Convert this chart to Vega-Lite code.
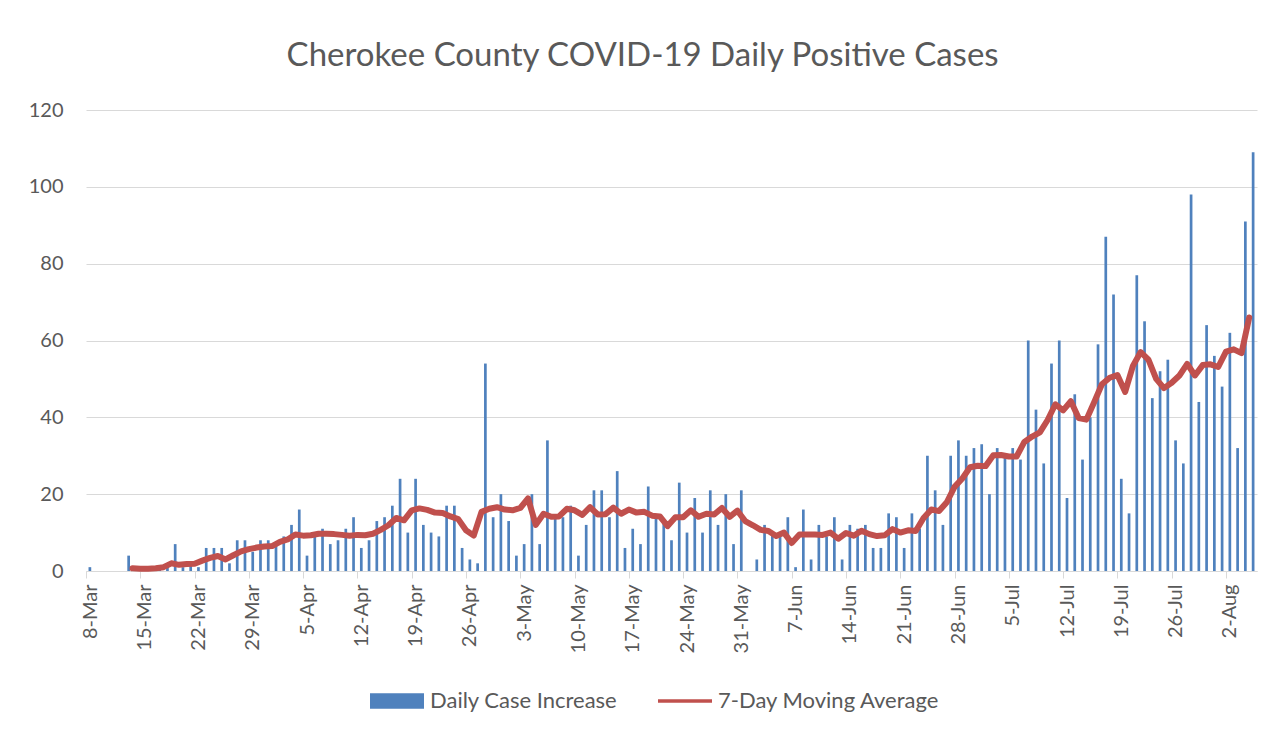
{
  "$schema": "https://vega.github.io/schema/vega-lite/v6.json",
  "autosize": "none",
  "width": 1171,
  "height": 461,
  "padding": {"left": 86, "top": 110, "right": 26, "bottom": 164},
  "background": "white",
  "title": {
    "text": "Cherokee County COVID-19 Daily Positive Cases",
    "font": "Lato", "fontSize": 33, "fontWeight": "normal", "color": "#595959",
    "frame": "bounds", "anchor": "middle", "offset": 27
  },
  "data": {"values": [
    {"date":"2020-03-08","cases":1},{"date":"2020-03-09","cases":0},{"date":"2020-03-10","cases":0},{"date":"2020-03-11","cases":0},{"date":"2020-03-12","cases":0},{"date":"2020-03-13","cases":4},
    {"date":"2020-03-14","cases":0,"avg":0.7},{"date":"2020-03-15","cases":0,"avg":0.6},{"date":"2020-03-16","cases":0,"avg":0.6},{"date":"2020-03-17","cases":1,"avg":0.7},{"date":"2020-03-18","cases":2,"avg":1.0},{"date":"2020-03-19","cases":7,"avg":2.0},{"date":"2020-03-20","cases":1,"avg":1.6},{"date":"2020-03-21","cases":2,"avg":1.8},{"date":"2020-03-22","cases":1,"avg":1.9},{"date":"2020-03-23","cases":6,"avg":2.7},{"date":"2020-03-24","cases":6,"avg":3.4},{"date":"2020-03-25","cases":6,"avg":3.9},{"date":"2020-03-26","cases":2,"avg":3.0},{"date":"2020-03-27","cases":8,"avg":4.1},{"date":"2020-03-28","cases":8,"avg":5.1},{"date":"2020-03-29","cases":5,"avg":5.7},{"date":"2020-03-30","cases":8,"avg":6.1},{"date":"2020-03-31","cases":8,"avg":6.4},
    {"date":"2020-04-01","cases":7,"avg":6.5},{"date":"2020-04-02","cases":9,"avg":7.6},{"date":"2020-04-03","cases":12,"avg":8.2},{"date":"2020-04-04","cases":16,"avg":9.5},{"date":"2020-04-05","cases":4,"avg":9.2},{"date":"2020-04-06","cases":9,"avg":9.3},{"date":"2020-04-07","cases":11,"avg":9.7},{"date":"2020-04-08","cases":7,"avg":9.7},{"date":"2020-04-09","cases":8,"avg":9.6},{"date":"2020-04-10","cases":11,"avg":9.4},{"date":"2020-04-11","cases":14,"avg":9.2},{"date":"2020-04-12","cases":6,"avg":9.4},{"date":"2020-04-13","cases":8,"avg":9.3},{"date":"2020-04-14","cases":13,"avg":9.7},{"date":"2020-04-15","cases":14,"avg":10.7},{"date":"2020-04-16","cases":17,"avg":11.9},{"date":"2020-04-17","cases":24,"avg":13.8},{"date":"2020-04-18","cases":10,"avg":13.2},{"date":"2020-04-19","cases":24,"avg":15.8},{"date":"2020-04-20","cases":12,"avg":16.3},{"date":"2020-04-21","cases":10,"avg":15.9},{"date":"2020-04-22","cases":9,"avg":15.2},{"date":"2020-04-23","cases":17,"avg":15.1},{"date":"2020-04-24","cases":17,"avg":14.2},{"date":"2020-04-25","cases":6,"avg":13.5},{"date":"2020-04-26","cases":3,"avg":10.6},{"date":"2020-04-27","cases":2,"avg":9.2},{"date":"2020-04-28","cases":54,"avg":15.4},{"date":"2020-04-29","cases":14,"avg":16.2},{"date":"2020-04-30","cases":20,"avg":16.6},
    {"date":"2020-05-01","cases":13,"avg":16.0},{"date":"2020-05-02","cases":4,"avg":15.8},{"date":"2020-05-03","cases":7,"avg":16.4},{"date":"2020-05-04","cases":20,"avg":18.9},{"date":"2020-05-05","cases":7,"avg":12.0},{"date":"2020-05-06","cases":34,"avg":14.9},{"date":"2020-05-07","cases":14,"avg":14.1},{"date":"2020-05-08","cases":14,"avg":14.2},{"date":"2020-05-09","cases":17,"avg":16.2},{"date":"2020-05-10","cases":4,"avg":15.8},{"date":"2020-05-11","cases":12,"avg":14.6},{"date":"2020-05-12","cases":21,"avg":16.6},{"date":"2020-05-13","cases":21,"avg":14.7},{"date":"2020-05-14","cases":14,"avg":14.8},{"date":"2020-05-15","cases":26,"avg":16.5},{"date":"2020-05-16","cases":6,"avg":14.9},{"date":"2020-05-17","cases":11,"avg":16.0},{"date":"2020-05-18","cases":7,"avg":15.2},{"date":"2020-05-19","cases":22,"avg":15.4},{"date":"2020-05-20","cases":14,"avg":14.4},{"date":"2020-05-21","cases":13,"avg":14.2},{"date":"2020-05-22","cases":8,"avg":11.7},{"date":"2020-05-23","cases":23,"avg":14.0},{"date":"2020-05-24","cases":10,"avg":14.0},{"date":"2020-05-25","cases":19,"avg":15.8},{"date":"2020-05-26","cases":10,"avg":14.1},{"date":"2020-05-27","cases":21,"avg":14.9},{"date":"2020-05-28","cases":12,"avg":14.7},{"date":"2020-05-29","cases":20,"avg":16.4},{"date":"2020-05-30","cases":7,"avg":14.1},{"date":"2020-05-31","cases":21,"avg":15.7},
    {"date":"2020-06-01","cases":0,"avg":13.0},{"date":"2020-06-02","cases":3,"avg":11.9},{"date":"2020-06-03","cases":12,"avg":10.7},{"date":"2020-06-04","cases":10,"avg":10.4},{"date":"2020-06-05","cases":10,"avg":9.1},{"date":"2020-06-06","cases":14,"avg":10.0},{"date":"2020-06-07","cases":1,"avg":7.3},{"date":"2020-06-08","cases":16,"avg":9.5},{"date":"2020-06-09","cases":3,"avg":9.5},{"date":"2020-06-10","cases":12,"avg":9.5},{"date":"2020-06-11","cases":9,"avg":9.4},{"date":"2020-06-12","cases":14,"avg":10.0},{"date":"2020-06-13","cases":3,"avg":8.4},{"date":"2020-06-14","cases":12,"avg":9.9},{"date":"2020-06-15","cases":11,"avg":9.2},{"date":"2020-06-16","cases":12,"avg":10.5},{"date":"2020-06-17","cases":6,"avg":9.6},{"date":"2020-06-18","cases":6,"avg":9.1},{"date":"2020-06-19","cases":15,"avg":9.3},{"date":"2020-06-20","cases":14,"avg":10.9},{"date":"2020-06-21","cases":6,"avg":10.0},{"date":"2020-06-22","cases":15,"avg":10.6},{"date":"2020-06-23","cases":11,"avg":10.4},{"date":"2020-06-24","cases":30,"avg":13.8},{"date":"2020-06-25","cases":21,"avg":16.0},{"date":"2020-06-26","cases":12,"avg":15.6},{"date":"2020-06-27","cases":30,"avg":17.9},{"date":"2020-06-28","cases":34,"avg":21.9},{"date":"2020-06-29","cases":30,"avg":24.1},{"date":"2020-06-30","cases":32,"avg":27.0},
    {"date":"2020-07-01","cases":33,"avg":27.4},{"date":"2020-07-02","cases":20,"avg":27.3},{"date":"2020-07-03","cases":32,"avg":30.1},{"date":"2020-07-04","cases":30,"avg":30.2},{"date":"2020-07-05","cases":32,"avg":29.8},{"date":"2020-07-06","cases":29,"avg":29.8},{"date":"2020-07-07","cases":60,"avg":33.6},{"date":"2020-07-08","cases":42,"avg":35.0},{"date":"2020-07-09","cases":28,"avg":36.1},{"date":"2020-07-10","cases":54,"avg":39.3},{"date":"2020-07-11","cases":60,"avg":43.4},{"date":"2020-07-12","cases":19,"avg":41.8},{"date":"2020-07-13","cases":46,"avg":44.2},{"date":"2020-07-14","cases":29,"avg":39.8},{"date":"2020-07-15","cases":40,"avg":39.4},{"date":"2020-07-16","cases":59,"avg":43.9},{"date":"2020-07-17","cases":87,"avg":48.6},{"date":"2020-07-18","cases":72,"avg":50.3},{"date":"2020-07-19","cases":24,"avg":51.0},{"date":"2020-07-20","cases":15,"avg":46.6},{"date":"2020-07-21","cases":77,"avg":53.4},{"date":"2020-07-22","cases":65,"avg":57.0},{"date":"2020-07-23","cases":45,"avg":55.0},{"date":"2020-07-24","cases":52,"avg":50.0},{"date":"2020-07-25","cases":55,"avg":47.6},{"date":"2020-07-26","cases":34,"avg":49.0},{"date":"2020-07-27","cases":28,"avg":50.9},{"date":"2020-07-28","cases":98,"avg":53.9},{"date":"2020-07-29","cases":44,"avg":50.9},{"date":"2020-07-30","cases":64,"avg":53.6},{"date":"2020-07-31","cases":56,"avg":53.8},
    {"date":"2020-08-01","cases":48,"avg":53.1},{"date":"2020-08-02","cases":62,"avg":57.1},{"date":"2020-08-03","cases":32,"avg":57.7},{"date":"2020-08-04","cases":91,"avg":56.7},{"date":"2020-08-05","cases":109,"avg":66.0}
  ]},
  "layer": [
    {
      "mark": {"type": "bar", "width": 2.7, "timeUnitBandPosition": 0.5},
      "encoding": {
        "x": {
          "field": "date", "timeUnit": "utcyearmonthdate", "type": "temporal",
          "scale": {"type": "utc", "domain": [{"year": 2020, "month": 3, "date": 8, "utc": true}, {"year": 2020, "month": 8, "date": 6, "utc": true}], "nice": false},
          "axis": {
            "title": null, "format": "%-d-%b", "labelAngle": -90,
            "tickCount": {"interval": "week", "step": 1},
            "labelFont": "Lato", "labelFontSize": 20, "labelColor": "#595959",
            "domainColor": "#d9d9d9", "tickColor": "#d9d9d9", "tickSize": 7,
            "labelPadding": 6, "labelOffset": 4, "grid": false, "labelFlush": false, "labelOverlap": false
          }
        },
        "y": {
          "field": "cases", "type": "quantitative",
          "scale": {"domain": [0, 120], "nice": false},
          "axis": {
            "title": null, "values": [0, 20, 40, 60, 80, 100, 120],
            "grid": true, "gridColor": "#d9d9d9", "domain": false, "ticks": false,
            "labelFont": "Lato", "labelFontSize": 20, "labelColor": "#595959", "labelPadding": 23
          }
        },
        "color": {
          "datum": "Daily Case Increase",
          "scale": {"domain": ["Daily Case Increase", "7-Day Moving Average"], "range": ["#4F81BD", "#C0504D"]},
          "legend": {
            "title": null, "orient": "none", "legendX": 284, "legendY": 564, "direction": "horizontal",
            "labelFont": "Lato", "labelFontSize": 22, "labelColor": "#595959", "labelLimit": 0,
            "symbolSize": 2916, "labelOffset": 6, "columnPadding": 40,
            "encode": {"symbols": {"update": {
              "shape": {"signal": "datum.value === 'Daily Case Increase' ? 'M-1,-0.29H1V0.29H-1Z' : 'M-1,-0.065H1V0.065H-1Z'"},
              "fill": {"scale": "color", "field": "value"},
              "stroke": {"value": "transparent"},
              "strokeWidth": {"value": 0},
              "opacity": {"value": 1}
            }}}
          }
        }
      }
    },
    {
      "transform": [{"filter": "isValid(datum.avg)"}],
      "mark": {"type": "line", "strokeWidth": 6, "strokeCap": "round", "strokeJoin": "round", "timeUnitBandPosition": 0.5},
      "encoding": {
        "x": {"field": "date", "timeUnit": "utcyearmonthdate", "type": "temporal"},
        "y": {"field": "avg", "type": "quantitative"},
        "color": {"datum": "7-Day Moving Average"}
      }
    }
  ],
  "config": {
    "view": {"stroke": null}
  }
}
